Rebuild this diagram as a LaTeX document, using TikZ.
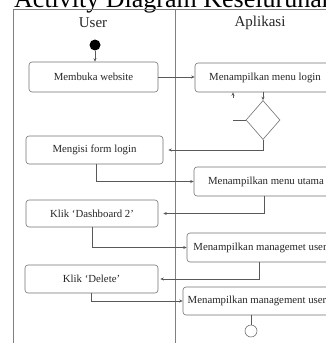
\documentclass[tikz,border=0pt]{standalone}
\usepackage{fontspec}
\setmainfont{Liberation Serif}
\usetikzlibrary{shapes.geometric,arrows.meta}
\begin{document}
\begin{tikzpicture}[x=1pt,y=-1pt,
  lane/.style={draw=black!50,line width=0.7pt},
  actbox/.style={draw=black!55,line width=0.6pt,rounded corners=3pt,fill=white,
    inner sep=0pt,font=\fontsize{10.8}{12}\selectfont,text=black!85},
  conn/.style={draw=black!65,line width=0.6pt},
  arr/.style={conn,-{Stealth[length=3.5pt,width=3pt]}},
  hdr/.style={font=\fontsize{15}{17}\selectfont,text=black!85,inner sep=0pt}]
\useasboundingbox (0,0) rectangle (326,343);
% title (cut at the top)
\node[anchor=base west,inner sep=0pt,font=\fontsize{26}{28}\selectfont] (title) at (14,7.5) {Activity Diagram Keseluruhan};
% swimlanes
\draw[lane] (13,350) -- (13,9.5) -- (340,9.5);
\draw[lane] (175,9.5) -- (175,350);
\node[hdr] (huser) at (93,23) {User};
\node[hdr] (happ) at (260,23) {Aplikasi};
% nodes
\node[circle,fill=black,inner sep=0pt,minimum size=11pt] (init) at (95,45) {};
\node[actbox,minimum width=129pt,minimum height=30pt] (mb) at (93.5,77) {Membuka website};
\node[actbox,minimum width=140pt,minimum height=29pt] (ml) at (265,77.5) {Menampilkan menu login};
\node[diamond,draw=black!55,line width=0.6pt,fill=white,inner sep=0pt,minimum width=34pt,minimum height=39pt] (dia) at (263,120) {};
\coordinate (stub) at (233,120);
\coordinate (stubup) at (233,98);
\node[actbox,minimum width=137pt,minimum height=28pt] (fm) at (94.5,150) {Mengisi form login};
\node[actbox,minimum width=144pt,minimum height=29pt] (mu) at (266,181.5) {Menampilkan menu utama};
\node[actbox,minimum width=132pt,minimum height=27pt] (db) at (92,213.5) {Klik `Dashboard 2'};
\node[actbox,minimum width=146pt,minimum height=29pt] (mg) at (260,247.5) {Menampilkan managemet user};
\node[actbox,minimum width=133pt,minimum height=28pt] (del) at (91.5,279) {Klik `Delete'};
\node[actbox,minimum width=148pt,minimum height=28pt] (mgt) at (257,301) {Menampilkan management user};
\node[circle,draw=black!55,line width=0.6pt,fill=white,inner sep=0pt,minimum size=12pt] (fin) at (251,331) {};
% connectors
\draw[arr] (init) -- (init |- mb.north);
\draw[arr] (mb.east) -- (mb.east -| ml.west);
\draw[arr] (dia.north |- ml.south) -- (dia.north);
\draw[conn] (dia.west) -- (stub);
\draw[arr] (stubup) -- (stubup |- ml.south);
\draw[arr,shorten >=5pt] (dia.south) |- (fm.east);
\draw[arr] ([xshift=1.5pt]fm.south) |- (mu.west);
\draw[arr,shorten >=5pt] ([xshift=-2pt]mu.south) |- (db.east);
\draw[arr] (db.south) |- (mg.west);
\draw[arr,shorten >=2pt] ([xshift=-1pt]mg.south) |- (del.east);
\draw[arr] (del.south) |- (mgt.west);
\draw[conn] ([xshift=-6pt]mgt.south) -- (fin.north);
\end{tikzpicture}
\end{document}
